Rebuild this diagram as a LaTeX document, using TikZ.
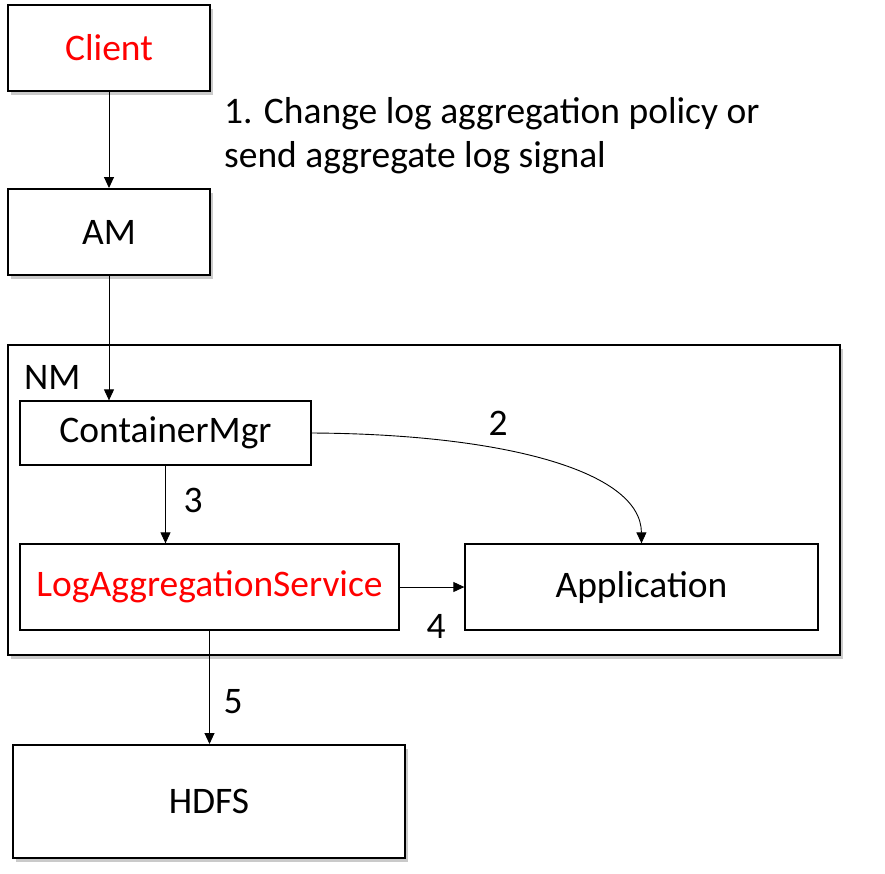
\documentclass[tikz,border=0pt]{standalone}
\usepackage{fontspec}
\setmainfont{Carlito}
\usetikzlibrary{shadows,arrows.meta}
\begin{document}
\begin{tikzpicture}[x=1pt,y=-1pt,
  txt/.style={font=\fontsize{37.5}{44}\selectfont},
  outerbox/.style={draw, line width=2pt, fill=white, inner sep=0pt, txt,
    drop shadow={shadow xshift=3pt, shadow yshift=-4pt, fill=black!35, opacity=0.6}},
  innerbox/.style={draw, line width=1.3pt, fill=white, inner sep=0pt, txt},
  arr/.style={line width=0.9pt, -{Triangle[length=11pt,width=10pt]}},
  lbl/.style={txt, inner sep=0pt}
]
\useasboundingbox (0,0) rectangle (885,873);
\node[outerbox, minimum width=202pt, minimum height=86pt, text=red] (client) at (109,48) {Client};
\node[outerbox, minimum width=202pt, minimum height=86pt] (am) at (109,232) {AM};
\node[outerbox, minimum width=832pt, minimum height=310pt] (nm) at (424,500) {};
\node[lbl, anchor=west] (nmlbl) at (24,377) {NM};
\node[innerbox, minimum width=291pt, minimum height=64pt] (cm) at (165.5,433) {ContainerMgr};
\node[innerbox, minimum width=379pt, minimum height=86pt, text=red] (las) at (209.5,587) {LogAggregationService};
\node[innerbox, minimum width=353pt, minimum height=86pt] (app) at (641.5,587) {Application};
\node[outerbox, minimum width=392pt, minimum height=113pt] (hdfs) at (209,801.5) {HDFS};

\node[lbl, anchor=west, align=left] (l1) at (224,136) {1. Change log aggregation policy or\\send aggregate log signal};
\node[lbl] (l2) at (498,423) {2};
\node[lbl] (l3) at (193,500) {3};
\node[lbl] (l4) at (436,626) {4};
\node[lbl] (l5) at (233,702) {5};

\draw[arr] (client.south) -- (am.north);
\draw[arr] (am.south) -- (am.south |- cm.north);
\draw[arr] (cm.south) -- (cm.south |- las.north);
\draw[arr] (las.east) -- (app.west);
\draw[arr] (las.south) -- (las.south |- hdfs.north);
\draw[arr] (cm.east) .. controls (500,434) and (641,470) .. (app.north);
\end{tikzpicture}
\end{document}
